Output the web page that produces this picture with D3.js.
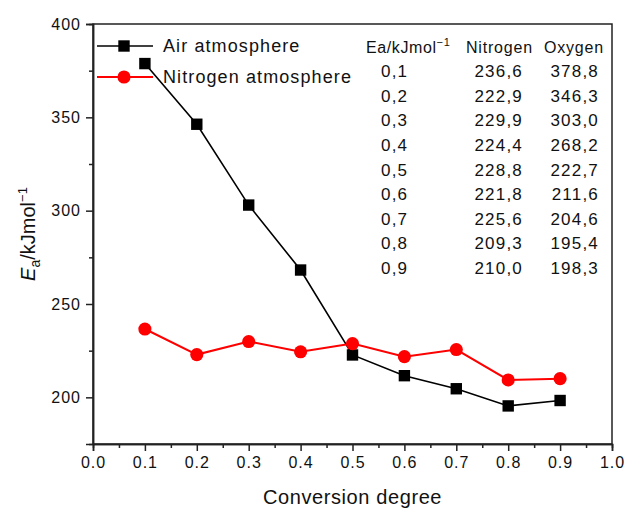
<!DOCTYPE html>
<html>
<head>
<meta charset="utf-8">
<script src="https://cdn.jsdelivr.net/npm/d3@7"></script>
<style>
  body { margin: 0; background: #fff; }
  svg { font-family: "Liberation Sans", Arial, sans-serif; }
</style>
</head>
<body>
<script>
// conversion degree and activation energies (kJ/mol)
var conversion = [0.1, 0.2, 0.3, 0.4, 0.5, 0.6, 0.7, 0.8, 0.9];
var airEa = [378.8, 346.3, 303.0, 268.2, 222.7, 211.6, 204.6, 195.4, 198.3];
var nitrogenEa = [236.6, 222.9, 229.9, 224.4, 228.8, 221.8, 225.6, 209.3, 210.0];
var convLabels = ['0,1', '0,2', '0,3', '0,4', '0,5', '0,6', '0,7', '0,8', '0,9'];
var nitrogenLabels = ['236,6', '222,9', '229,9', '224,4', '228,8', '221,8', '225,6', '209,3', '210,0'];
var oxygenLabels = ['378,8', '346,3', '303,0', '268,2', '222,7', '211,6', '204,6', '195,4', '198,3'];
var xTicks = [0, 0.1, 0.2, 0.3, 0.4, 0.5, 0.6, 0.7, 0.8, 0.9, 1.0];
var yTicks = [200, 250, 300, 350, 400];

(function() {
  var W = 625, H = 509;
  var mLeft = 93, mRight = 612, mTop = 24, mBottom = 444;

  var svg = d3.select('body').append('svg').attr('width', W).attr('height', H);

  var x = d3.scaleLinear().domain([0, 1]).range([mLeft, mRight]);
  var y = d3.scaleLinear().domain([175, 400]).range([mBottom, mTop]);

  // frame
  svg.append('rect').attr('x', mLeft).attr('y', mTop)
    .attr('width', mRight - mLeft).attr('height', mBottom - mTop)
    .attr('fill', 'none').attr('stroke', '#222').attr('stroke-width', 1.5);

  // x axis, major + minor
  var gx = svg.append('g').attr('transform', 'translate(0,' + mBottom + ')')
    .call(d3.axisBottom(x).tickValues(xTicks).tickSize(7).tickPadding(6).tickFormat(d3.format('.1f')));
  var gxm = svg.append('g').attr('transform', 'translate(0,' + mBottom + ')')
    .call(d3.axisBottom(x).tickValues(d3.range(0.05, 1, 0.1)).tickSize(4).tickFormat(''));

  // y axis, major + minor
  var gy = svg.append('g').attr('transform', 'translate(' + mLeft + ',0)')
    .call(d3.axisLeft(y).tickValues(yTicks).tickSize(7).tickPadding(5));
  var gym = svg.append('g').attr('transform', 'translate(' + mLeft + ',0)')
    .call(d3.axisLeft(y).tickValues([225, 275, 325, 375]).tickSize(4).tickFormat(''));

  [gx, gxm, gy, gym].forEach(function(g) {
    g.select('.domain').attr('stroke', '#222').attr('stroke-width', 1.5);
    g.selectAll('.tick line').attr('stroke', '#222').attr('stroke-width', 1.5);
    g.selectAll('.tick text').attr('font-size', 16).attr('fill', '#111')
      .attr('font-family', '"Liberation Sans", Arial, sans-serif')
      .style('letter-spacing', '1px');
  });

  // axis titles
  svg.append('text').attr('x', (mLeft + mRight) / 2).attr('y', 504)
    .attr('text-anchor', 'middle').attr('font-size', 20).attr('fill', '#111')
    .style('letter-spacing', '0.6px')
    .text('Conversion degree');

  var yt = svg.append('text').attr('transform', 'translate(35,' + ((mTop + mBottom) / 2) + ') rotate(-90)')
    .attr('text-anchor', 'middle').attr('font-size', 20).attr('fill', '#111');
  yt.append('tspan').attr('font-style', 'italic').text('E');
  yt.append('tspan').attr('font-size', 14).attr('dy', 5).text('a');
  yt.append('tspan').attr('dy', -5).text('/kJmol');
  yt.append('tspan').attr('font-size', 13).attr('dy', -8).text('\u22121');

  function symbolFor(shape) {
    return d3.symbol().type(shape === 'square' ? d3.symbolSquare : d3.symbolCircle)
      .size(shape === 'square' ? 130 : 135);
  }

  // series
  function drawSeries(vals, color, shape, sw) {
    var pts = conversion.map(function(c, i) { return [c, vals[i]]; });
    svg.append('path').datum(pts)
      .attr('fill', 'none').attr('stroke', color).attr('stroke-width', sw)
      .attr('d', d3.line().x(function(d) { return x(d[0]); }).y(function(d) { return y(d[1]); }));
    svg.append('g').selectAll('path').data(pts).enter().append('path')
      .attr('transform', function(d) { return 'translate(' + x(d[0]) + ',' + y(d[1]) + ')'; })
      .attr('d', symbolFor(shape)).attr('fill', color);
  }
  drawSeries(airEa, '#000', 'square', 1.6);
  drawSeries(nitrogenEa, '#ff0000', 'circle', 2);

  // legend
  var legend = [
    { name: 'Air atmosphere', color: '#000', shape: 'square', yy: 46, sw: 1.6 },
    { name: 'Nitrogen atmosphere', color: '#ff0000', shape: 'circle', yy: 77, sw: 2 }
  ];
  legend.forEach(function(l) {
    svg.append('line').attr('x1', 97).attr('x2', 153).attr('y1', l.yy).attr('y2', l.yy)
      .attr('stroke', l.color).attr('stroke-width', l.sw);
    svg.append('path').attr('transform', 'translate(124,' + l.yy + ')')
      .attr('d', symbolFor(l.shape)()).attr('fill', l.color);
    svg.append('text').attr('x', 163).attr('y', l.yy + 6).attr('font-size', 18)
      .attr('fill', '#111').style('letter-spacing', '1.1px').text(l.name);
  });

  // table of values
  var header = svg.append('text').attr('x', 366).attr('y', 53).attr('font-size', 16).attr('fill', '#111')
    .style('letter-spacing', '0.6px');
  header.append('tspan').text('Ea/kJmol');
  header.append('tspan').attr('font-size', 11).attr('dy', -7).text('\u22121');
  svg.append('text').attr('x', 466).attr('y', 53).attr('font-size', 16).attr('fill', '#111')
    .style('letter-spacing', '0.8px').text('Nitrogen');
  svg.append('text').attr('x', 544).attr('y', 53).attr('font-size', 16).attr('fill', '#111')
    .style('letter-spacing', '0.8px').text('Oxygen');

  var rowY = d3.scaleLinear().domain([0, 8]).range([77, 274]);
  convLabels.forEach(function(t, i) {
    svg.append('text').attr('x', 381).attr('y', rowY(i)).attr('font-size', 17)
      .attr('fill', '#111').style('letter-spacing', '1.2px').text(t);
    svg.append('text').attr('x', 523).attr('y', rowY(i)).attr('font-size', 17)
      .attr('text-anchor', 'end').attr('fill', '#111').style('letter-spacing', '1.2px')
      .text(nitrogenLabels[i]);
    svg.append('text').attr('x', 599).attr('y', rowY(i)).attr('font-size', 17)
      .attr('text-anchor', 'end').attr('fill', '#111').style('letter-spacing', '1.2px')
      .text(oxygenLabels[i]);
  });
})();
</script>
</body>
</html>
